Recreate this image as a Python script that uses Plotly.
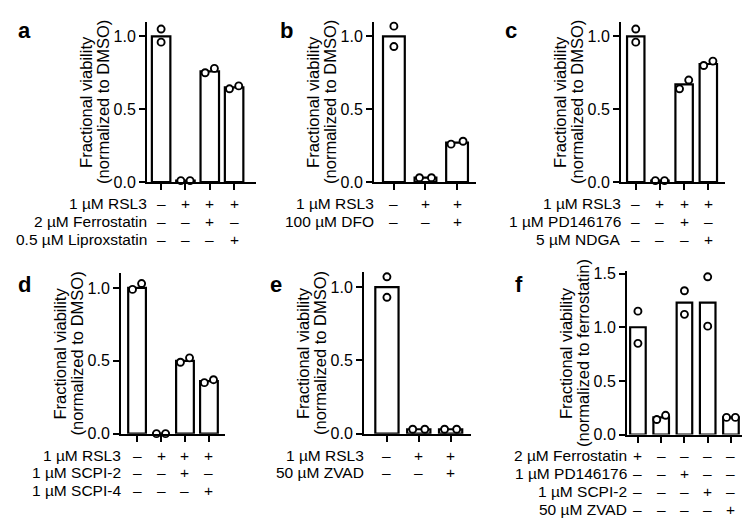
import plotly.graph_objects as go

W, H = 750, 524
FONT = "Liberation Sans, Arial, Helvetica, sans-serif"

# ---------------- data ----------------
a_means = [1.0, 0.01, 0.76, 0.65]
a_reps = [[1.05, 0.96], [0.01, 0.01], [0.75, 0.78], [0.64, 0.66]]
a_conds = ["1 µM RSL3", "2 µM Ferrostatin", "0.5 µM Liproxstatin"]
a_signs = [["–", "+", "+", "+"], ["–", "–", "+", "–"], ["–", "–", "–", "+"]]

b_means = [1.0, 0.03, 0.27]
b_reps = [[1.07, 0.93], [0.03, 0.03], [0.26, 0.28]]
b_conds = ["1 µM RSL3", "100 µM DFO"]
b_signs = [["–", "+", "+"], ["–", "–", "+"]]

c_means = [1.0, 0.01, 0.67, 0.81]
c_reps = [[1.05, 0.96], [0.01, 0.01], [0.64, 0.70], [0.80, 0.83]]
c_conds = ["1 µM RSL3", "1 µM PD146176", "5 µM NDGA"]
c_signs = [["–", "+", "+", "+"], ["–", "–", "+", "–"], ["–", "–", "–", "+"]]

d_means = [1.0, 0.0, 0.50, 0.36]
d_reps = [[0.99, 1.03], [0.0, 0.0], [0.49, 0.52], [0.35, 0.37]]
d_conds = ["1 µM RSL3", "1 µM SCPI-2", "1 µM SCPI-4"]
d_signs = [["–", "+", "+", "+"], ["–", "–", "+", "–"], ["–", "–", "–", "+"]]

e_means = [1.0, 0.03, 0.03]
e_reps = [[1.07, 0.93], [0.03, 0.03], [0.03, 0.03]]
e_conds = ["1 µM RSL3", "50 µM ZVAD"]
e_signs = [["–", "+", "+"], ["–", "–", "+"]]

f_means = [1.0, 0.16, 1.23, 1.23, 0.16]
f_reps = [[1.15, 0.85], [0.14, 0.18], [1.34, 1.12], [1.47, 1.01], [0.16, 0.16]]
f_conds = ["2 µM Ferrostatin", "1 µM PD146176", "1 µM SCPI-2", "50 µM ZVAD"]
f_signs = [["+", "–", "–", "–", "–"], ["–", "–", "+", "–", "–"],
           ["–", "–", "–", "+", "–"], ["–", "–", "–", "–", "+"]]

ticks_std = [0.0, 0.5, 1.0]
ticks_f = [0.0, 0.5, 1.0, 1.5]
title_line1 = "Fractional viability"
title_dmso = "(normalized to DMSO)"
title_ferro = "(normalized to ferrostatin)"

# ---------------- layout specs (pixels) ----------------
panels = [
    dict(letter="a", means=a_means, reps=a_reps, conds=a_conds, signs=a_signs,
         ax=139, ex=248, y0=173, yt=8, ymax=1.1, xlo=-0.58, xhi=3.9, bw=0.76,
         ticks=ticks_std, t2=title_dmso, lx=8, ly=17),
    dict(letter="b", means=b_means, reps=b_reps, conds=b_conds, signs=b_signs,
         ax=366, ex=468, y0=173, yt=8, ymax=1.1, xlo=-0.63, xhi=2.6, bw=0.69,
         ticks=ticks_std, t2=title_dmso, lx=270, ly=17),
    dict(letter="c", means=c_means, reps=c_reps, conds=c_conds, signs=c_signs,
         ax=613, ex=717, y0=173, yt=8, ymax=1.1, xlo=-0.61, xhi=3.69, bw=0.72,
         ticks=ticks_std, t2=title_dmso, lx=495, ly=17),
    dict(letter="d", means=d_means, reps=d_reps, conds=d_conds, signs=d_signs,
         ax=113, ex=217, y0=432, yt=267, ymax=1.1, xlo=-0.67, xhi=3.67, bw=0.74,
         ticks=ticks_std, t2=title_dmso, lx=8, ly=278),
    dict(letter="e", means=e_means, reps=e_reps, conds=e_conds, signs=e_signs,
         ax=356, ex=463, y0=432, yt=266, ymax=1.1, xlo=-0.72, xhi=2.64, bw=0.73,
         ticks=ticks_std, t2=title_dmso, lx=260, ly=278),
    dict(letter="f", means=f_means, reps=f_reps, conds=f_conds, signs=f_signs,
         ax=619, ex=739, y0=433, yt=265, ymax=1.52, xlo=-0.47, xhi=4.69, bw=0.67,
         ticks=ticks_f, t2=title_ferro, lx=505, ly=278),
]

fig = go.Figure()
annotations = []
layout = dict(
    width=W, height=H, margin=dict(l=0, r=0, t=0, b=0),
    paper_bgcolor="white", plot_bgcolor="white", showlegend=False,
    font=dict(family=FONT, color="black"),
)


def py(p):
    return 1 - p / H


for i, p in enumerate(panels):
    n = i + 1
    xa = "x" if n == 1 else f"x{n}"
    ya = "y" if n == 1 else f"y{n}"
    xkey = "xaxis" if n == 1 else f"xaxis{n}"
    ykey = "yaxis" if n == 1 else f"yaxis{n}"
    cats = list(range(len(p["means"])))

    fig.add_trace(go.Bar(
        x=cats, y=p["means"], width=p["bw"], xaxis=xa, yaxis=ya,
        marker=dict(color="white", line=dict(color="black", width=2.2)),
        hoverinfo="skip",
    ))

    # replicate points: spread horizontally only where they would overlap
    ppu = (p["y0"] - p["yt"]) / p["ymax"]
    px_, py_ = [], []
    for k, reps in enumerate(p["reps"]):
        overlap = abs(reps[0] - reps[1]) * ppu < 11
        offs = [-0.19, 0.19] if overlap else [0.0, 0.0]
        for v, o in zip(reps, offs):
            px_.append(k + o)
            py_.append(v)
    fig.add_trace(go.Scatter(
        x=px_, y=py_, mode="markers", xaxis=xa, yaxis=ya, cliponaxis=False,
        marker=dict(symbol="circle", size=7, color="white",
                    line=dict(color="black", width=1.9)),
        hoverinfo="skip",
    ))

    layout[xkey] = dict(
        domain=[p["ax"] / W, p["ex"] / W], anchor=ya,
        range=[p["xlo"], p["xhi"]], showgrid=False, zeroline=False,
        showline=True, linecolor="black", linewidth=2,
        ticks="outside", ticklen=6, tickwidth=2, tickcolor="black",
        tickvals=cats, showticklabels=False, fixedrange=True,
    )
    layout[ykey] = dict(
        domain=[py(p["y0"]), py(p["yt"])], anchor=xa,
        range=[0, p["ymax"]], showgrid=False, zeroline=False,
        showline=True, linecolor="black", linewidth=2,
        ticks="outside", ticklen=6, tickwidth=2, tickcolor="black",
        tickvals=p["ticks"], ticktext=[f"{t:.1f}" for t in p["ticks"]],
        tickfont=dict(size=16, family=FONT, color="black"), fixedrange=True,
    )

    ymid = py((p["y0"] + p["yt"]) / 2)
    for txt, sh in ((title_line1, -61), (p["t2"], -44)):
        annotations.append(dict(
            text=txt, xref=f"{xa} domain", yref="paper", x=0, y=ymid,
            xshift=sh, textangle=-90, showarrow=False,
            xanchor="center", yanchor="middle",
            font=dict(size=16.5, family=FONT, color="black"),
        ))

    for r, (cond, signs) in enumerate(zip(p["conds"], p["signs"])):
        yy = py(p["y0"] + 22 + 18.4 * r)
        annotations.append(dict(
            text=cond, xref=f"{xa} domain", yref="paper", x=0, y=yy,
            xshift=2, showarrow=False, xanchor="right", yanchor="middle",
            font=dict(size=15.5, family=FONT, color="black"),
        ))
        for k, s in enumerate(signs):
            annotations.append(dict(
                text=s, xref=xa, yref="paper", x=k, y=yy, showarrow=False,
                xanchor="center", yanchor="middle",
                font=dict(size=15.5, family=FONT, color="black"),
            ))

    annotations.append(dict(
        text=f"<b>{p['letter']}</b>", xref="paper", yref="paper",
        x=p["lx"] / W, y=py(p["ly"]), showarrow=False,
        xanchor="left", yanchor="middle",
        font=dict(size=22, family=FONT, color="black"),
    ))

layout["annotations"] = annotations
fig.update_layout(**layout)
fig.write_html("out.html")
